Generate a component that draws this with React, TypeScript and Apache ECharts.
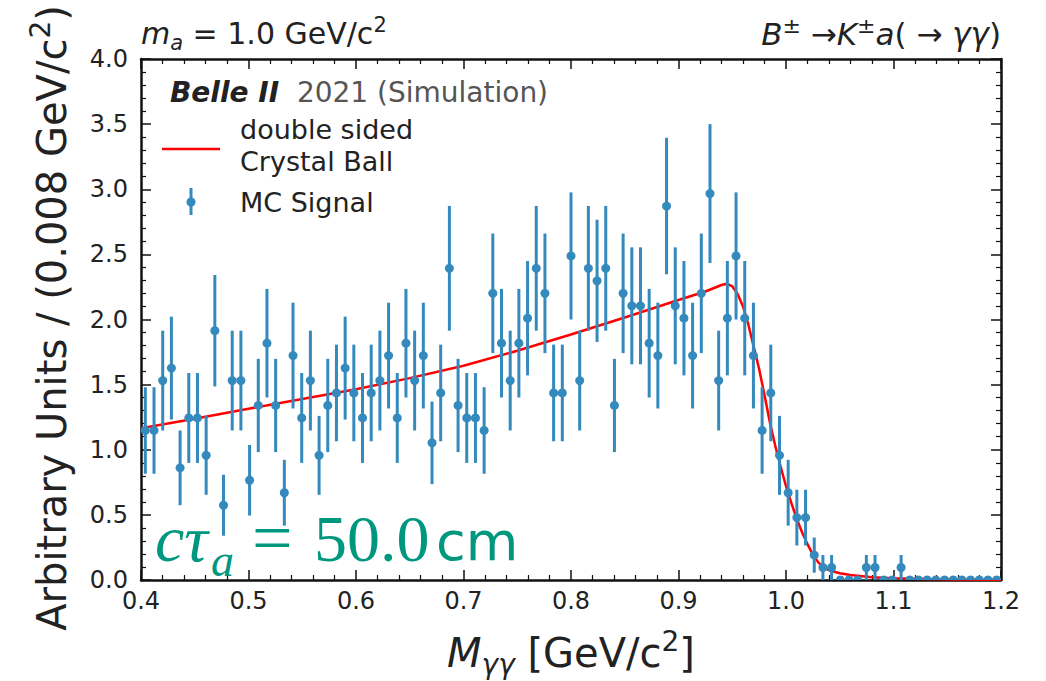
import React, { useEffect, useRef } from "react";
import * as echarts from "echarts";

// ---- data ----
const xMin = 0.4;
const xMax = 1.2;
const nBins = 99;
const binWidth = (xMax - xMin) / nBins;

const signalValues = [
  1.148, 1.148, 1.531, 1.627, 0.861, 1.244, 1.244, 0.957, 1.914, 0.574,
  1.531, 1.531, 0.766, 1.34, 1.818, 1.34, 0.67, 1.723, 1.244, 1.531,
  0.957, 1.34, 1.436, 1.627, 1.436, 1.244, 1.436, 1.531, 1.723, 1.244,
  1.818, 1.531, 1.723, 1.053, 1.436, 2.393, 1.34, 1.244, 1.244, 1.148,
  2.201, 1.818, 1.531, 1.818, 2.01, 2.393, 2.201, 1.436, 1.436, 2.488,
  1.531, 2.393, 2.297, 2.393, 1.34, 2.201, 2.105, 2.105, 1.818, 1.723,
  2.871, 2.105, 2.01, 1.723, 2.201, 2.967, 1.531, 2.01, 2.488, 2.01,
  1.723, 1.148, 1.436, 0.957, 0.67, 0.479, 0.479, 0.191, 0.096, 0.096,
  0, 0, 0, 0.096, 0.096, 0, 0, 0.096, 0, 0,
  0, 0, 0, 0, 0, 0, 0, 0, 0,
];
const signalErrors = [
  0.332, 0.332, 0.383, 0.395, 0.287, 0.345, 0.345, 0.303, 0.428, 0.234,
  0.383, 0.383, 0.271, 0.358, 0.417, 0.358, 0.253, 0.406, 0.345, 0.383,
  0.303, 0.358, 0.371, 0.395, 0.371, 0.345, 0.371, 0.383, 0.406, 0.345,
  0.417, 0.383, 0.406, 0.317, 0.371, 0.479, 0.358, 0.345, 0.345, 0.332,
  0.459, 0.417, 0.383, 0.417, 0.439, 0.479, 0.459, 0.371, 0.371, 0.488,
  0.383, 0.479, 0.469, 0.479, 0.358, 0.459, 0.449, 0.449, 0.417, 0.406,
  0.524, 0.449, 0.439, 0.406, 0.459, 0.533, 0.383, 0.439, 0.488, 0.439,
  0.406, 0.332, 0.371, 0.303, 0.253, 0.214, 0.214, 0.135, 0.096, 0.096,
  0, 0, 0, 0.096, 0.096, 0, 0, 0.096, 0, 0,
  0, 0, 0, 0, 0, 0, 0, 0, 0,
];

const fitX = [
  0.4, 0.45, 0.5, 0.55, 0.6, 0.65, 0.7, 0.75, 0.8, 0.85, 0.9, 0.925, 0.94,
  0.945, 0.95, 0.955, 0.96, 0.965, 0.97, 0.975, 0.98, 0.985, 0.99, 0.995,
  1.0, 1.005, 1.01, 1.015, 1.02, 1.025, 1.03, 1.035, 1.04, 1.05, 1.06, 1.08,
  1.1, 1.13, 1.16, 1.2,
];
const fitY = [
  1.165, 1.238, 1.315, 1.39, 1.465, 1.55, 1.645, 1.76, 1.885, 2.015, 2.15,
  2.215, 2.265, 2.275, 2.255, 2.195, 2.1, 1.96, 1.79, 1.62, 1.42, 1.21, 1.03,
  0.87, 0.72, 0.59, 0.47, 0.365, 0.275, 0.195, 0.135, 0.095, 0.075, 0.052,
  0.038, 0.022, 0.013, 0.007, 0.004, 0.002,
];

const BLUE = "#348ABD";
const TEAL = "#00977f";
const SANS = "DejaVu Sans";
const SERIF = "Liberation Serif";

export default function App() {
  const ref = useRef<HTMLDivElement>(null);

  useEffect(() => {
    if (!ref.current) return;
    const chart = echarts.init(ref.current, undefined, { renderer: "svg" });

    const points = signalValues.map((v, i) => [
      xMin + binWidth * (i + 0.5),
      v,
      signalErrors[i],
    ]);
    const fit = fitX.map((x, i) => [x, fitY[i]]);

    const axisCommon = {
      axisLine: { show: true, onZero: false, lineStyle: { color: "#111", width: 2.5 } },
      axisTick: { show: true, inside: true, length: 10, lineStyle: { color: "#111", width: 1.5 } },
      minorTick: { show: true, splitNumber: 5, length: 5, lineStyle: { color: "#111", width: 1.2 } },
      splitLine: { show: false },
      minorSplitLine: { show: false },
    };

    const option: any = {
      animation: false,
      backgroundColor: "#ffffff",
      grid: { left: 141, right: 45, top: 59, bottom: 101 },
      xAxis: [
        {
          type: "value",
          min: 0.4,
          max: 1.2,
          interval: 0.1,
          position: "bottom",
          ...axisCommon,
          axisLabel: {
            fontSize: 24,
            color: "#222",
            fontFamily: SANS,
            margin: 9,
            formatter: (v: number) => v.toFixed(1),
          },
        },
        {
          type: "value",
          min: 0.4,
          max: 1.2,
          interval: 0.1,
          position: "top",
          ...axisCommon,
          axisLabel: { show: false },
        },
      ],
      yAxis: [
        {
          type: "value",
          min: 0,
          max: 4,
          interval: 0.5,
          position: "left",
          ...axisCommon,
          axisLabel: {
            fontSize: 24,
            color: "#222",
            fontFamily: SANS,
            margin: 13,
            formatter: (v: number) => v.toFixed(1),
          },
        },
        {
          type: "value",
          min: 0,
          max: 4,
          interval: 0.5,
          position: "right",
          ...axisCommon,
          axisLabel: { show: false },
        },
      ],
      series: [
        {
          name: "double sided Crystal Ball",
          type: "line",
          data: fit,
          showSymbol: false,
          smooth: false,
          lineStyle: { color: "#ff0000", width: 2.5 },
          z: 2,
          clip: true,
        },
        {
          name: "MC Signal",
          type: "custom",
          data: points,
          clip: true,
          z: 3,
          renderItem: (params: any, api: any) => {
            const x = api.value(0);
            const y = api.value(1);
            const e = api.value(2);
            const c = api.coord([x, y]);
            const t = api.coord([x, y + e]);
            const b = api.coord([x, y - e]);
            return {
              type: "group",
              children: [
                {
                  type: "line",
                  shape: { x1: c[0], y1: t[1], x2: c[0], y2: b[1] },
                  style: { stroke: BLUE, lineWidth: 3 },
                },
                {
                  type: "circle",
                  shape: { cx: c[0], cy: c[1], r: 4.5 },
                  style: { fill: BLUE },
                },
              ],
            };
          },
        },
      ],
      graphic: [
        // top-left title
        {
          type: "text",
          left: 141,
          top: 14,
          style: {
            text: "{i|m}{sub|a}{n| = 1.0 GeV/c}{sup|2}",
            rich: {
              i: { fontFamily: SANS, fontStyle: "italic", fontSize: 30, fill: "#222" },
              n: { fontFamily: SANS, fontSize: 30, fill: "#222" },
              sub: { fontFamily: SANS, fontStyle: "italic", fontSize: 21, fill: "#222", padding: [18, 0, 0, 0] },
              sup: { fontFamily: SANS, fontSize: 21, fill: "#222", padding: [0, 0, 18, 0] },
            },
          },
        },
        // top-right title
        {
          type: "text",
          right: 45,
          top: 14,
          style: {
            text: "{i|B}{sup|±}{n| →}{i|K}{sup|±}{i|a}{n|( → }{i|γγ}{n|)}",
            rich: {
              i: { fontFamily: SANS, fontStyle: "italic", fontSize: 31, fill: "#222" },
              n: { fontFamily: SANS, fontSize: 31, fill: "#222" },
              sup: { fontFamily: SANS, fontSize: 22, fill: "#222", padding: [0, 0, 18, 0] },
            },
          },
        },
        // Belle II label
        {
          type: "text",
          x: 170,
          y: 92,
          style: {
            text: "{b|Belle II}{g|  2021 (Simulation)}",
            verticalAlign: "middle",
            rich: {
              b: { fontFamily: SANS, fontStyle: "italic", fontWeight: "bold", fontSize: 28, fill: "#222" },
              g: { fontFamily: SANS, fontSize: 28, fill: "#555" },
            },
          },
        },
        // legend
        {
          type: "line",
          shape: { x1: 162, y1: 149, x2: 220, y2: 149 },
          style: { stroke: "#ff0000", lineWidth: 2.5 },
        },
        {
          type: "text",
          x: 240,
          y: 129,
          style: { text: "double sided", fontFamily: SANS, fontSize: 27, fill: "#222", verticalAlign: "middle" },
        },
        {
          type: "text",
          x: 240,
          y: 161,
          style: { text: "Crystal Ball", fontFamily: SANS, fontSize: 27, fill: "#222", verticalAlign: "middle" },
        },
        {
          type: "line",
          shape: { x1: 191, y1: 188, x2: 191, y2: 215 },
          style: { stroke: BLUE, lineWidth: 3 },
        },
        {
          type: "circle",
          shape: { cx: 191, cy: 202, r: 4.5 },
          style: { fill: BLUE },
        },
        {
          type: "text",
          x: 240,
          y: 202,
          style: { text: "MC Signal", fontFamily: SANS, fontSize: 27, fill: "#222", verticalAlign: "middle" },
        },
        // c tau annotation
        {
          type: "text",
          x: 155,
          y: 538,
          z: 10,
          style: { text: "cτ", fontFamily: SERIF, fontStyle: "italic", fontSize: 66, fill: TEAL, verticalAlign: "middle" },
        },
        {
          type: "text",
          x: 211,
          y: 560,
          z: 10,
          style: { text: "a", fontFamily: SERIF, fontStyle: "italic", fontSize: 46, fill: TEAL, verticalAlign: "middle" },
        },
        {
          type: "text",
          x: 252,
          y: 538,
          z: 10,
          style: { text: "=", fontFamily: SERIF, fontSize: 72, fill: TEAL, verticalAlign: "middle" },
        },
        {
          type: "text",
          x: 314,
          y: 538,
          z: 10,
          style: { text: "50.0", fontFamily: SERIF, fontSize: 66, fill: TEAL, verticalAlign: "middle" },
        },
        {
          type: "text",
          x: 436,
          y: 541,
          z: 10,
          style: { text: "cm", fontFamily: SANS, fontSize: 54, fill: TEAL, verticalAlign: "middle" },
        },
        // x axis name
        {
          type: "text",
          x: 571,
          y: 653,
          style: {
            text: "{i|M}{sub|γγ}{n| [GeV/c}{sup|2}{n|]}",
            align: "center",
            verticalAlign: "middle",
            rich: {
              i: { fontFamily: SANS, fontStyle: "italic", fontSize: 40, fill: "#222" },
              n: { fontFamily: SANS, fontSize: 40, fill: "#222" },
              sub: { fontFamily: SANS, fontStyle: "italic", fontSize: 28, fill: "#222", padding: [22, 0, 0, 0] },
              sup: { fontFamily: SANS, fontSize: 28, fill: "#222", padding: [0, 0, 24, 0] },
            },
          },
        },
        // y axis name
        {
          type: "text",
          x: 52,
          y: 318,
          rotation: Math.PI / 2,
          style: {
            text: "{n|Arbitrary Units / (0.008 GeV/c}{sup|2}{n|)}",
            align: "center",
            verticalAlign: "middle",
            rich: {
              n: { fontFamily: SANS, fontSize: 40, fill: "#222" },
              sup: { fontFamily: SANS, fontSize: 28, fill: "#222", padding: [0, 0, 24, 0] },
            },
          },
        },
      ],
    };

    chart.setOption(option);
    return () => chart.dispose();
  }, []);

  return (
    <div
      ref={ref}
      style={{ position: "fixed", left: 0, top: 0, width: 1046, height: 681, background: "#fff" }}
    />
  );
}
